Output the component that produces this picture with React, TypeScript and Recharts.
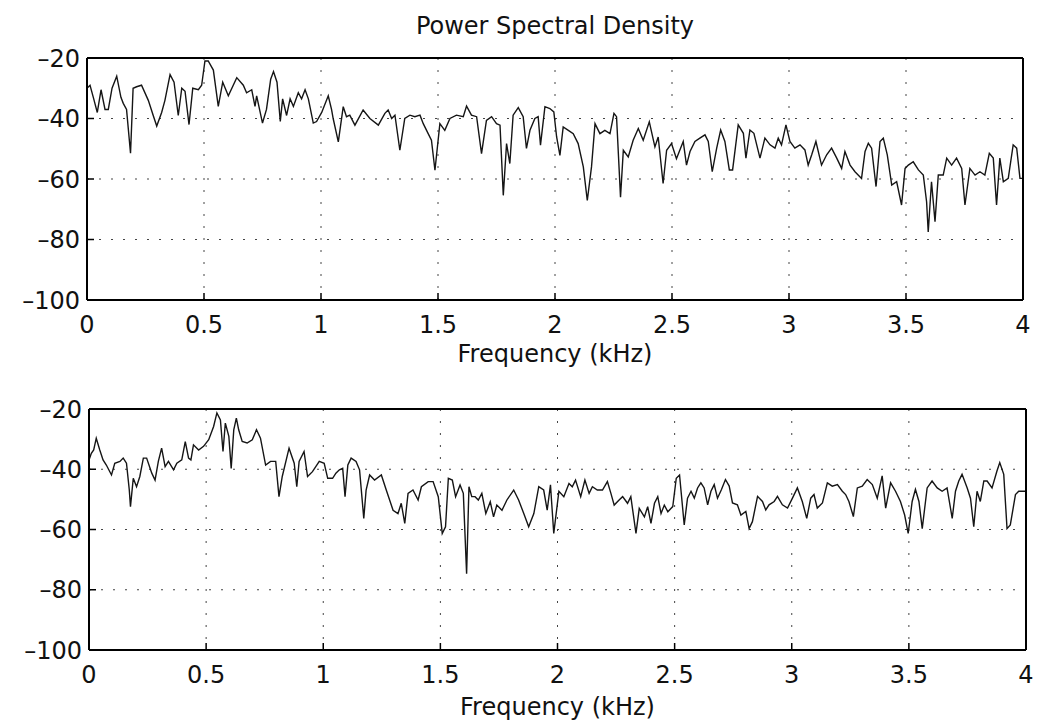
import React from 'react';
import { LineChart, Line, XAxis, YAxis, CartesianGrid } from 'recharts';

// frequency axis in kHz, PSD in dB
const xTicks = [0, 0.5, 1, 1.5, 2, 2.5, 3, 3.5, 4];
const yTicks = [-100, -80, -60, -40, -20];

const topFreq = [
  0.000, 0.013, 0.027, 0.044, 0.060, 0.077, 0.091, 0.107, 0.127, 0.145, 0.155, 0.169, 0.186, 0.197, 0.212, 0.233,
  0.262, 0.283, 0.298, 0.319, 0.333, 0.355, 0.372, 0.390, 0.405, 0.419, 0.436, 0.452, 0.476, 0.490, 0.504, 0.518,
  0.540, 0.561, 0.580, 0.604, 0.640, 0.668, 0.682, 0.704, 0.718, 0.725, 0.750, 0.767, 0.785, 0.797, 0.812, 0.826,
  0.836, 0.853, 0.868, 0.882, 0.903, 0.917, 0.932, 0.946, 0.967, 0.981, 1.003, 1.031, 1.045, 1.052, 1.074, 1.095,
  1.109, 1.123, 1.145, 1.180, 1.209, 1.245, 1.273, 1.287, 1.302, 1.316, 1.337, 1.358, 1.380, 1.401, 1.423, 1.437,
  1.458, 1.472, 1.487, 1.508, 1.529, 1.551, 1.579, 1.608, 1.622, 1.643, 1.665, 1.686, 1.707, 1.729, 1.750, 1.765,
  1.779, 1.793, 1.807, 1.821, 1.843, 1.864, 1.878, 1.893, 1.914, 1.928, 1.938, 1.957, 1.978, 1.995, 2.007, 2.021,
  2.035, 2.057, 2.078, 2.099, 2.121, 2.138, 2.156, 2.171, 2.192, 2.213, 2.235, 2.252, 2.263, 2.280, 2.292, 2.313,
  2.334, 2.356, 2.377, 2.403, 2.427, 2.441, 2.462, 2.477, 2.498, 2.519, 2.548, 2.562, 2.577, 2.598, 2.619, 2.641,
  2.655, 2.672, 2.691, 2.708, 2.726, 2.745, 2.759, 2.783, 2.805, 2.816, 2.833, 2.850, 2.876, 2.897, 2.919, 2.940,
  2.954, 2.968, 2.987, 3.004, 3.025, 3.047, 3.068, 3.082, 3.097, 3.115, 3.139, 3.161, 3.182, 3.204, 3.225, 3.239,
  3.261, 3.282, 3.310, 3.325, 3.339, 3.353, 3.372, 3.389, 3.403, 3.420, 3.439, 3.460, 3.481, 3.496, 3.510, 3.531,
  3.553, 3.574, 3.588, 3.595, 3.609, 3.624, 3.638, 3.659, 3.674, 3.695, 3.716, 3.738, 3.752, 3.773, 3.795, 3.816,
  3.837, 3.856, 3.873, 3.887, 3.901, 3.916, 3.937, 3.958, 3.973, 3.987, 4.000,
];
const topDb = [
  -30, -29, -33, -38, -30.5, -37, -37, -30, -26, -33, -35, -37, -51.5, -30, -29.5, -29,
  -34, -39, -42.5, -38, -34, -25.5, -28, -39, -30, -31, -42, -30, -30.5, -29, -21, -21,
  -24, -36, -28, -32.5, -26.5, -29, -31.5, -30.5, -36, -32.5, -41.5, -37, -27, -24.5, -28, -41,
  -33.5, -39, -33.5, -36, -31.5, -33.5, -30.5, -33.5, -41.5, -41, -38, -32.5, -37, -40, -47.7, -36.1,
  -39.4, -38.9, -42.2, -37.2, -40, -42.2, -38.3, -37.2, -40, -38.9, -50.5, -40, -38.9, -39.4, -38.9, -41.7,
  -45, -47.2, -57.1, -41.7, -43.9, -40, -38.9, -39.4, -35.9, -38.9, -39.4, -51.6, -40.6, -39.4, -41.7, -42.2,
  -65.4, -48.3, -54.9, -38.9, -36.4, -39.4, -49.9, -43.9, -40, -39.4, -48.8, -36.1, -36.7, -37.8, -46.1, -52.2,
  -42.8, -43.9, -45, -48.3, -56, -67.1, -56, -41.7, -45, -43.9, -45, -38.3, -39.4, -66, -50.5, -52.7,
  -47.2, -43.3, -47.2, -41.1, -49.4, -46.1, -61.5, -50.5, -48.3, -53.3, -47.6, -55.4, -50.9, -47.6, -46.5, -45.4,
  -47.6, -57.6, -49.8, -43.8, -47.6, -57, -57, -42.1, -44.9, -53.1, -43.8, -44.9, -53.1, -46.5, -48.7, -49.8,
  -46.5, -48.7, -42.1, -47.6, -49.8, -48.7, -50.4, -55.4, -52, -47.6, -55.4, -52, -49.8, -53.1, -56.5, -50.9,
  -55.4, -57.6, -59.8, -50.9, -48.2, -49.8, -62.5, -47.6, -46.5, -52, -62, -60.9, -68.6, -56.5, -55.4, -54.3,
  -57, -58.7, -67.5, -77.5, -60.9, -74.1, -58.7, -58.7, -53.1, -55.4, -53.1, -56.5, -68.6, -56.5, -58.7, -57.6,
  -58.7, -51.5, -53.1, -68.6, -53.1, -60.9, -59.8, -48.7, -49.8, -59.8, -59.8,
];

const bottomFreq = [
  0.000, 0.010, 0.020, 0.031, 0.046, 0.060, 0.074, 0.096, 0.110, 0.132, 0.146, 0.160, 0.172, 0.177, 0.189, 0.203,
  0.217, 0.232, 0.246, 0.268, 0.282, 0.296, 0.310, 0.325, 0.339, 0.361, 0.375, 0.396, 0.411, 0.425, 0.435, 0.446,
  0.468, 0.489, 0.511, 0.532, 0.546, 0.561, 0.572, 0.582, 0.597, 0.607, 0.618, 0.629, 0.639, 0.654, 0.675, 0.697,
  0.715, 0.732, 0.754, 0.775, 0.797, 0.811, 0.825, 0.854, 0.876, 0.887, 0.897, 0.918, 0.933, 0.954, 0.983, 1.004,
  1.019, 1.040, 1.054, 1.069, 1.083, 1.093, 1.105, 1.119, 1.140, 1.155, 1.173, 1.183, 1.198, 1.219, 1.248, 1.269,
  1.298, 1.319, 1.333, 1.348, 1.362, 1.383, 1.405, 1.419, 1.448, 1.469, 1.491, 1.508, 1.522, 1.534, 1.551, 1.565,
  1.584, 1.598, 1.612, 1.622, 1.634, 1.648, 1.662, 1.677, 1.694, 1.713, 1.727, 1.741, 1.763, 1.784, 1.813, 1.834,
  1.856, 1.877, 1.899, 1.920, 1.941, 1.956, 1.970, 1.984, 2.006, 2.027, 2.049, 2.063, 2.077, 2.099, 2.117, 2.135,
  2.149, 2.170, 2.192, 2.213, 2.228, 2.242, 2.263, 2.278, 2.299, 2.313, 2.335, 2.349, 2.371, 2.385, 2.399, 2.414,
  2.428, 2.442, 2.456, 2.471, 2.492, 2.507, 2.521, 2.541, 2.555, 2.570, 2.584, 2.598, 2.612, 2.626, 2.641, 2.655,
  2.669, 2.683, 2.700, 2.717, 2.733, 2.747, 2.768, 2.783, 2.804, 2.818, 2.832, 2.854, 2.875, 2.889, 2.903, 2.925,
  2.939, 2.960, 2.982, 3.003, 3.024, 3.045, 3.064, 3.081, 3.095, 3.109, 3.131, 3.152, 3.173, 3.195, 3.216, 3.230,
  3.244, 3.263, 3.280, 3.301, 3.322, 3.344, 3.365, 3.386, 3.401, 3.422, 3.443, 3.464, 3.482, 3.497, 3.514, 3.528,
  3.543, 3.557, 3.578, 3.599, 3.621, 3.642, 3.663, 3.685, 3.699, 3.713, 3.727, 3.749, 3.763, 3.777, 3.791, 3.805,
  3.820, 3.834, 3.855, 3.876, 3.888, 3.905, 3.919, 3.933, 3.955, 3.969, 3.997,
];
const bottomDb = [
  -36.9, -34.7, -33.6, -29.7, -33.6, -36.9, -38.6, -41.9, -38, -37.4, -36.3, -38, -46.9, -52.4, -43, -45.8,
  -42.4, -36.3, -36.3, -41.3, -43.6, -37.4, -33, -39.1, -37.4, -40.2, -38, -36.9, -30.8, -36.3, -36.9, -31.9,
  -33.6, -32.4, -30.2, -25.8, -21.3, -23.6, -34.1, -24.7, -29.1, -39.7, -26.9, -23, -26.9, -30.8, -31.3, -30.2,
  -26.9, -29.7, -38.6, -37.4, -37.4, -49.1, -42.4, -33, -38, -45.8, -37.4, -34.1, -42.4, -40.8, -37.4, -38,
  -43, -43, -41.3, -40.2, -39.7, -49.1, -38.6, -36.3, -37.4, -40.2, -56.3, -46.9, -41.9, -43.6, -41.9, -46.9,
  -53.6, -54.7, -51.3, -58, -48, -46.9, -50.2, -45.8, -44.1, -44.1, -49.1, -61.3, -59.1, -43, -43.6, -49.1,
  -45.2, -48, -74.7, -45.8, -49.1, -49.1, -50.2, -48, -54.7, -50.8, -55.8, -51.9, -53.6, -50.2, -46.9, -50.2,
  -54.7, -59.1, -54.7, -45.8, -46.9, -53.6, -45.2, -61.3, -47.3, -49.1, -44.7, -45.8, -43.6, -49.1, -43.6, -48,
  -45.8, -46.9, -46.9, -44.1, -48, -51.9, -50.2, -49.1, -51.3, -49.1, -61.3, -53, -55.8, -52.4, -58, -51.3,
  -49.1, -54.7, -51.9, -54.1, -52.4, -43, -41.9, -58.5, -49.6, -47.3, -49.6, -46.2, -44.5, -46.2, -51.8, -47.3,
  -45.1, -49.6, -46.7, -43.4, -45.6, -51.2, -51.8, -55.2, -54, -59.7, -57.4, -49, -50.7, -53.5, -51.8, -50.7,
  -49, -51.8, -52.9, -49.6, -46.2, -50.7, -56.3, -49.6, -48.4, -52.9, -51.2, -44.5, -45.6, -45.1, -47.3, -48.4,
  -50.7, -55.7, -46.2, -45.6, -43.4, -45.1, -49.6, -42.2, -52.9, -44.5, -47.3, -50.7, -55.2, -61.3, -50.7, -46.7,
  -50.7, -59.7, -46.2, -43.9, -46.2, -47.3, -46.2, -56.3, -47.3, -43.9, -41.7, -46.2, -49.6, -59.1, -47.3, -50.7,
  -43.9, -43.9, -46.2, -40.6, -37.8, -41.7, -59.7, -58.5, -48.4, -47.3, -47.3,
];

const topData = topFreq.map((f, i) => ({ f, db: topDb[i] }));
const bottomData = bottomFreq.map((f, i) => ({ f, db: bottomDb[i] }));

const FONT = '"DejaVu Sans", "Liberation Sans", Arial, sans-serif';
const tickStyle = { fill: '#111', fontSize: 24, fontFamily: FONT };
const fmtY = (v: number) => (v < 0 ? '\u2013' + Math.abs(v) : String(v));

interface PanelProps {
  data: { f: number; db: number }[];
  height: number;
  marginTop: number;
  marginRight: number;
  yWidth: number;
}

// x-axis box is 50px tall so the tick labels stay inside the svg
const Panel: React.FC<PanelProps> = ({ data, height, marginTop, marginRight, yWidth }) => (
  <LineChart
    width={1041}
    height={height}
    data={data}
    margin={{ top: marginTop, right: marginRight, bottom: 0, left: 0 }}
  >
    <CartesianGrid stroke="#444" strokeDasharray="2 10" />
    <XAxis
      dataKey="f"
      type="number"
      domain={[0, 4]}
      ticks={xTicks}
      interval={0}
      allowDataOverflow
      height={50}
      tickSize={-7}
      tickMargin={23}
      tick={tickStyle}
      axisLine={{ stroke: '#000', strokeWidth: 2 }}
      tickLine={{ stroke: '#000', strokeWidth: 1.5 }}
    />
    <XAxis
      xAxisId="top"
      orientation="top"
      dataKey="f"
      type="number"
      domain={[0, 4]}
      ticks={xTicks}
      interval={0}
      allowDataOverflow
      height={1}
      tickSize={-7}
      tick={false}
      axisLine={{ stroke: '#000', strokeWidth: 2 }}
      tickLine={{ stroke: '#000', strokeWidth: 1.5 }}
    />
    <YAxis
      type="number"
      domain={[-100, -20]}
      ticks={yTicks}
      interval={0}
      allowDataOverflow
      width={yWidth}
      tickSize={-7}
      tickMargin={14}
      tick={tickStyle}
      tickFormatter={fmtY}
      axisLine={{ stroke: '#000', strokeWidth: 2 }}
      tickLine={{ stroke: '#000', strokeWidth: 1.5 }}
    />
    <YAxis
      yAxisId="right"
      orientation="right"
      type="number"
      domain={[-100, -20]}
      ticks={yTicks}
      interval={0}
      allowDataOverflow
      width={1}
      tickSize={-7}
      tick={false}
      axisLine={{ stroke: '#000', strokeWidth: 2 }}
      tickLine={{ stroke: '#000', strokeWidth: 1.5 }}
    />
    <Line
      type="linear"
      dataKey="db"
      stroke="#151515"
      strokeWidth={1.4}
      dot={false}
      isAnimationActive={false}
    />
  </LineChart>
);

const labelStyle: React.CSSProperties = {
  position: 'absolute',
  fontFamily: FONT,
  fontSize: 24,
  lineHeight: '24px',
  color: '#111',
  textAlign: 'center',
};

export default function App() {
  return (
    <div style={{ position: 'absolute', left: 0, top: 0, width: 1041, height: 727, background: '#fff', overflow: 'hidden' }}>
      <div style={{ ...labelStyle, left: 87, width: 936, top: 14 }}>Power Spectral Density</div>
      <div style={{ position: 'absolute', left: 0, top: 0 }}>
        <Panel data={topData} height={350} marginTop={57} marginRight={17} yWidth={87} />
      </div>
      <div style={{ ...labelStyle, left: 87, width: 936, top: 342 }}>Frequency (kHz)</div>
      <div style={{ position: 'absolute', left: 0, top: 360 }}>
        <Panel data={bottomData} height={340} marginTop={48} marginRight={14} yWidth={89} />
      </div>
      <div style={{ ...labelStyle, left: 89, width: 937, top: 695 }}>Frequency (kHz)</div>
    </div>
  );
}
